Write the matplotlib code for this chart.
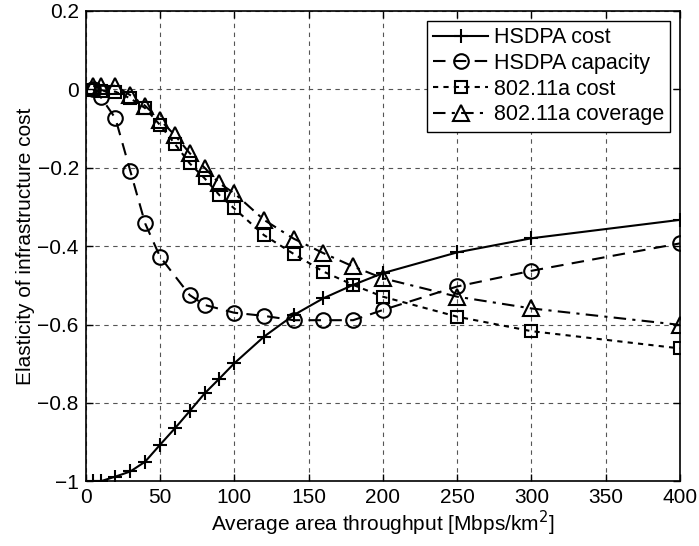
import matplotlib
matplotlib.use("Agg")
import matplotlib.pyplot as plt

plt.rcParams["font.family"] = ["Liberation Sans", "DejaVu Sans"]

# ---------- data ----------
x_hs_cost = [5, 10, 20, 30, 40, 50, 60, 70, 80, 90, 100, 120, 140, 160, 180, 200, 250, 300, 400]
y_hs_cost = [-1.0, -1.0, -0.988, -0.975, -0.950, -0.907, -0.865, -0.821, -0.776, -0.738,
             -0.699, -0.631, -0.576, -0.533, -0.499, -0.469, -0.416, -0.380, -0.333]

x_hs_cap = [5, 10, 20, 30, 40, 50, 70, 80, 100, 120, 140, 160, 180, 200, 250, 300, 400]
y_hs_cap = [0.0, -0.019, -0.074, -0.208, -0.342, -0.427, -0.525, -0.550, -0.570, -0.578,
            -0.589, -0.589, -0.589, -0.563, -0.503, -0.463, -0.393]

x_wl_cost = [5, 10, 20, 30, 40, 50, 60, 70, 80, 90, 100, 120, 140, 160, 180, 200, 250, 300, 400]
y_wl_cost = [-0.002, -0.004, -0.006, -0.023, -0.048, -0.091, -0.139, -0.189, -0.227, -0.270,
             -0.304, -0.372, -0.420, -0.465, -0.499, -0.529, -0.580, -0.617, -0.661]

x_wl_cov = [5, 10, 20, 30, 40, 50, 60, 70, 80, 90, 100, 120, 140, 160, 180, 200, 250, 300, 400]
y_wl_cov = [0.008, 0.009, 0.009, -0.015, -0.042, -0.078, -0.117, -0.163, -0.200, -0.240,
            -0.265, -0.333, -0.381, -0.418, -0.452, -0.482, -0.529, -0.559, -0.601]

xticks = [0, 50, 100, 150, 200, 250, 300, 350, 400]
yticks = [-1.0, -0.8, -0.6, -0.4, -0.2, 0.0, 0.2]
ytick_labels = ["\u22121", "\u22120.8", "\u22120.6", "\u22120.4", "\u22120.2", "0", "0.2"]

# ---------- figure ----------
fig = plt.figure(figsize=(6.99, 5.46), dpi=100)
ax = fig.add_axes([0.1226, 0.1185, 0.8502, 0.8615])

common = dict(color="black", linewidth=1.5, markerfacecolor="none",
              markeredgecolor="black", markeredgewidth=1.5)
ax.plot(x_hs_cost, y_hs_cost, "-", marker="+", markersize=10, label="HSDPA cost", **common)
ax.plot(x_hs_cap, y_hs_cap, "--", marker="o", markersize=10.5, dashes=(6, 4),
        label="HSDPA capacity", **common)
ax.plot(x_wl_cost, y_wl_cost, ":", marker="s", markersize=8.5, dashes=(2.5, 2.5),
        label="802.11a cost", **common)
ax.plot(x_wl_cov, y_wl_cov, "-.", marker="^", markersize=11, dashes=(6, 3, 1.5, 3),
        label="802.11a coverage", **common)

ax.set_xlim(0, 400)
ax.set_ylim(-1, 0.2)
ax.set_xticks(xticks)
ax.set_yticks(yticks)
ax.set_yticklabels(ytick_labels)
ax.tick_params(direction="in", labelsize=15, length=5, top=True, right=True, width=1, pad=5)
ax.grid(True, linestyle=(0, (4, 4)), color="#555555", linewidth=0.8)
for s in ax.spines.values():
    s.set_linewidth(1.2)

ax.set_xlabel("Average area throughput [Mbps/km$^2$]", fontsize=15, labelpad=1)
ax.set_ylabel("Elasticity of infrastructure cost", fontsize=15, labelpad=2)

leg = ax.legend(loc="upper right", fontsize=15.5, fancybox=False, framealpha=1,
                edgecolor="black", borderaxespad=0.45, handlelength=2.55,
                handletextpad=0.25, labelspacing=0.22, borderpad=0.3)
leg.get_frame().set_linewidth(1.0)

fig.savefig("out.png", dpi=100, facecolor="white")
